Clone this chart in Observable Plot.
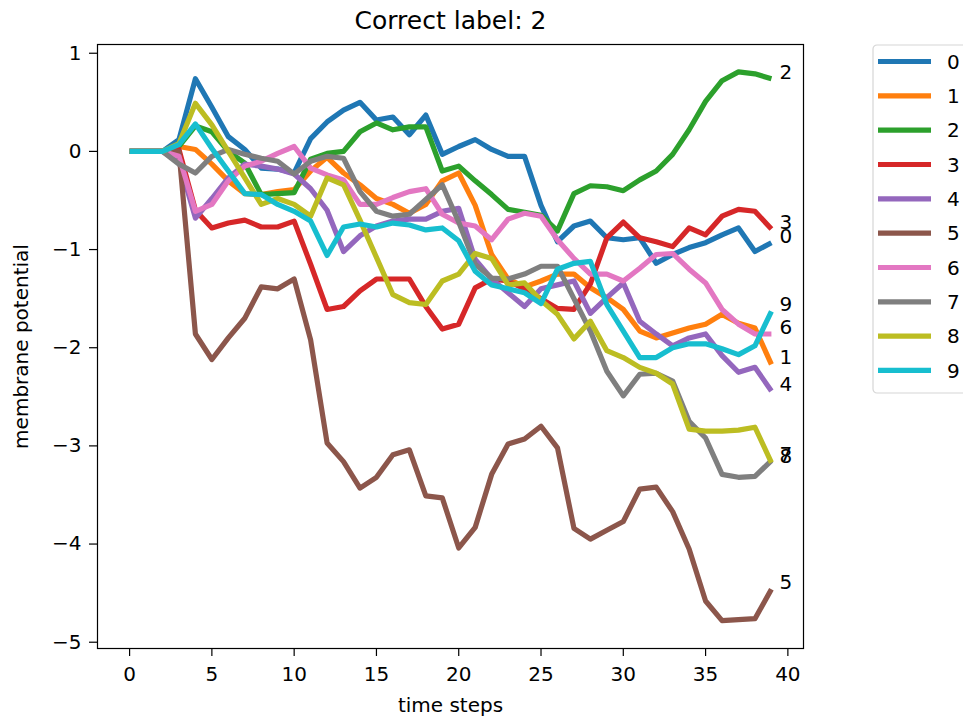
<!DOCTYPE html>
<html><head><meta charset="utf-8">
<script src="https://cdn.jsdelivr.net/npm/d3@7"></script>
<script src="https://cdn.jsdelivr.net/npm/@observablehq/plot@0.6"></script>
<style>
body{margin:0;background:#fff;overflow:hidden;width:963px;height:720px;position:relative;font-family:"DejaVu Sans",sans-serif}
#chart{position:absolute;left:0;top:0}
#legend{position:absolute;left:872px;top:44px}
</style></head><body><div id="chart"></div><div id="legend"></div>
<script>
const timeSteps = [0,1,2,3,4,5,6,7,8,9,10,11,12,13,14,15,16,17,18,19,20,21,22,23,24,25,26,27,28,29,30,31,32,33,34,35,36,37,38,39];
const seriesNames = ["0","1","2","3","4","5","6","7","8","9"];
const colors = ["#1f77b4","#ff7f0e","#2ca02c","#d62728","#9467bd","#8c564b","#e377c2","#7f7f7f","#bcbd22","#17becf"];
const xTicks = [0,5,10,15,20,25,30,35,40];
const yTicks = [-5,-4,-3,-2,-1,0,1];
const titleText = "Correct label: 2";
const xLabel = "time steps";
const yLabel = "membrane potential";

const s0 = [0,0,0,0.12,0.74,0.45,0.15,0.02,-0.17,-0.18,-0.22,0.13,0.3,0.42,0.5,0.32,0.35,0.17,0.37,-0.03,0.05,0.12,0.02,-0.05,-0.05,-0.55,-0.92,-0.76,-0.71,-0.88,-0.9,-0.88,-1.14,-1.05,-0.98,-0.93,-0.85,-0.78,-1.02,-0.93];
const s1 = [0,0,0,0.05,0.02,-0.13,-0.3,-0.43,-0.44,-0.41,-0.39,-0.2,-0.06,-0.22,-0.34,-0.48,-0.54,-0.63,-0.54,-0.3,-0.22,-0.55,-1.05,-1.3,-1.38,-1.32,-1.25,-1.25,-1.39,-1.49,-1.61,-1.83,-1.9,-1.85,-1.8,-1.76,-1.66,-1.75,-1.8,-2.17];
const s2 = [0,0,0,0.05,0.26,0.2,0.0,-0.12,-0.44,-0.43,-0.42,-0.08,-0.02,0.0,0.2,0.29,0.22,0.25,0.25,-0.2,-0.15,-0.3,-0.44,-0.59,-0.62,-0.65,-0.81,-0.43,-0.35,-0.36,-0.4,-0.29,-0.2,-0.03,0.22,0.51,0.72,0.81,0.79,0.74];
const s3 = [0,0,0,0.02,-0.6,-0.78,-0.73,-0.7,-0.77,-0.77,-0.71,-1.15,-1.61,-1.58,-1.42,-1.3,-1.3,-1.3,-1.58,-1.81,-1.76,-1.39,-1.3,-1.32,-1.4,-1.5,-1.6,-1.61,-1.35,-0.88,-0.72,-0.88,-0.92,-0.97,-0.78,-0.85,-0.66,-0.59,-0.61,-0.79];
const s4 = [0,0,0,-0.1,-0.68,-0.48,-0.27,-0.13,-0.15,-0.18,-0.23,-0.38,-0.6,-1.02,-0.86,-0.76,-0.71,-0.69,-0.69,-0.61,-0.58,-1.1,-1.3,-1.44,-1.58,-1.4,-1.36,-1.32,-1.65,-1.49,-1.34,-1.73,-1.86,-1.98,-1.9,-1.86,-2.08,-2.25,-2.2,-2.44];
const s5 = [0,0,0,0,-1.86,-2.12,-1.9,-1.7,-1.38,-1.4,-1.3,-1.92,-2.97,-3.16,-3.43,-3.32,-3.09,-3.04,-3.51,-3.53,-4.04,-3.83,-3.29,-2.98,-2.93,-2.8,-3.02,-3.84,-3.95,-3.86,-3.77,-3.44,-3.42,-3.67,-4.05,-4.58,-4.78,-4.77,-4.76,-4.46];
const s6 = [0,0,0,-0.05,-0.61,-0.54,-0.3,-0.15,-0.1,-0.02,0.05,-0.17,-0.24,-0.29,-0.54,-0.54,-0.47,-0.41,-0.38,-0.64,-0.73,-0.76,-0.9,-0.69,-0.63,-0.66,-0.9,-1.09,-1.25,-1.25,-1.32,-1.19,-1.05,-1.04,-1.2,-1.34,-1.61,-1.76,-1.86,-1.86];
const s7 = [0,0,0,-0.13,-0.22,-0.05,0.02,-0.03,-0.07,-0.1,-0.23,-0.1,-0.05,-0.07,-0.41,-0.61,-0.66,-0.64,-0.49,-0.34,-0.72,-1.15,-1.29,-1.3,-1.25,-1.17,-1.17,-1.5,-1.83,-2.24,-2.49,-2.27,-2.26,-2.34,-2.75,-2.92,-3.29,-3.32,-3.31,-3.15];
const s8 = [0,0,0,0.08,0.49,0.27,0.0,-0.27,-0.54,-0.48,-0.54,-0.66,-0.27,-0.34,-0.7,-1.08,-1.46,-1.54,-1.56,-1.32,-1.25,-1.04,-1.09,-1.36,-1.34,-1.52,-1.66,-1.91,-1.73,-2.03,-2.1,-2.2,-2.26,-2.37,-2.83,-2.85,-2.85,-2.84,-2.81,-3.17];
const s9 = [0,0,0,0.07,0.28,0.03,-0.2,-0.43,-0.44,-0.54,-0.61,-0.71,-1.06,-0.77,-0.74,-0.77,-0.73,-0.75,-0.8,-0.78,-0.91,-1.22,-1.36,-1.4,-1.44,-1.55,-1.2,-1.14,-1.12,-1.56,-1.83,-2.1,-2.1,-2.0,-1.96,-1.96,-2.01,-2.07,-1.98,-1.63];

const allSeries = [s0,s1,s2,s3,s4,s5,s6,s7,s8,s9];
const rows = [];
allSeries.forEach((vals, i) => vals.forEach((v, j) => rows.push({t: timeSteps[j], v, s: seriesNames[i]})));

const fmt = d => d < 0 ? "\u2212" + (-d) : String(d);
const FS = 20;

const chart = Plot.plot({
  width: 963, height: 720,
  marginLeft: 97, marginRight: 160, marginTop: 44, marginBottom: 72,
  style: {fontFamily: "DejaVu Sans, sans-serif", color: "black", background: "white"},
  x: {domain: [-1.95, 40.95]},
  y: {domain: [-5.064, 1.089]},
  color: {domain: seriesNames, range: colors},
  marks: [
    Plot.axisX({ticks: xTicks, tickSize: 8, tickPadding: 10, fontSize: FS, label: null, tickFormat: fmt, strokeWidth: 1.2}),
    Plot.axisY({ticks: yTicks, tickSize: 8, tickPadding: 8, fontSize: FS, label: null, tickFormat: fmt, strokeWidth: 1.2}),
    Plot.line(rows, {x: "t", y: "v", z: "s", stroke: "s", strokeWidth: 5.2, strokeLinejoin: "round", strokeLinecap: "butt"}),
    Plot.text(rows, Plot.selectLast({x: "t", y: "v", z: "s", text: "s", dx: 8, textAnchor: "start", lineAnchor: "bottom", fontSize: FS, fill: "black"})),
    Plot.frame({stroke: "black", strokeWidth: 1.2}),
    Plot.text([titleText], {frameAnchor: "top", dy: -24, textAnchor: "middle", lineAnchor: "middle", fontSize: 25, fill: "black"}),
    Plot.text([xLabel], {frameAnchor: "bottom", dy: 57, textAnchor: "middle", lineAnchor: "middle", fontSize: FS, fill: "black"}),
    Plot.text([yLabel], {frameAnchor: "left", dx: -76, rotate: -90, textAnchor: "middle", lineAnchor: "middle", fontSize: FS, fill: "black"})
  ]
});
document.getElementById("chart").appendChild(chart);

// legend
const rowH = 34.33;
const lg = d3.select("#legend").append("svg").attr("width", 100).attr("height", 352);
lg.append("rect").attr("x", 1).attr("y", 1).attr("width", 140).attr("height", 348).attr("rx", 4)
  .attr("fill", "white").attr("stroke", "#d6d6d6").attr("stroke-width", 1.2);
seriesNames.forEach((name, i) => {
  const y = 17.5 + i * rowH;
  lg.append("line").attr("x1", 6).attr("x2", 59).attr("y1", y).attr("y2", y)
    .attr("stroke", colors[i]).attr("stroke-width", 5.2);
  lg.append("text").attr("x", 75).attr("y", y).attr("dy", "0.36em")
    .attr("font-size", FS).attr("font-family", "DejaVu Sans, sans-serif").attr("fill", "black").text(name);
});
</script></body></html>
